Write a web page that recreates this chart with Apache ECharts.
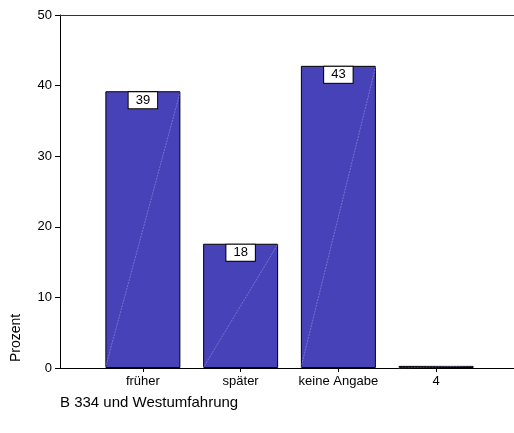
<!DOCTYPE html>
<html>
<head>
<meta charset="utf-8">
<script src="https://cdn.jsdelivr.net/npm/echarts@6/dist/echarts.min.js"></script>
<style>html,body{margin:0;padding:0;background:#fff}#c{width:514px;height:433px}</style>
</head>
<body>
<div id="c"></div>
<script>
var categories = ["früher", "später", "keine Angabe", "4"];
var values = [39.2, 17.6, 42.8, 0.3];
var labels = ["39", "18", "43", ""];
var yTicks = [0, 10, 20, 30, 40, 50];
var yName = "Prozent";
var footnote = "B 334 und Westumfahrung";

var font = "Liberation Sans, Arial, sans-serif";
var chart = echarts.init(document.getElementById('c'), null, {renderer: 'canvas'});
chart.setOption({
  animation: false,
  backgroundColor: '#fff',
  grid: [
    {left: 60, right: 0, top: 15, bottom: 65},
    {left: 94, right: 29, top: 15, bottom: 65}
  ],
  xAxis: [
    {type: 'value', gridIndex: 0, min: 0, max: 1, position: 'bottom',
     axisLine: {show: true, lineStyle: {color: '#000', width: 1}},
     axisTick: {show: false}, axisLabel: {show: false}, splitLine: {show: false}},
    {type: 'value', gridIndex: 0, min: 0, max: 1, position: 'top',
     axisLine: {show: true, lineStyle: {color: '#333', width: 1}},
     axisTick: {show: false}, axisLabel: {show: false}, splitLine: {show: false}},
    {type: 'category', gridIndex: 1, data: categories, position: 'bottom',
     axisLine: {show: false},
     axisTick: {show: true, alignWithLabel: true, interval: 0, length: 4, lineStyle: {color: '#000'}},
     axisLabel: {color: '#000', fontSize: 13, fontFamily: font, margin: 7, interval: 0, hideOverlap: false}}
  ],
  yAxis: [
    {type: 'value', gridIndex: 0, min: yTicks[0], max: yTicks[yTicks.length - 1], interval: 10,
     axisLine: {show: true, lineStyle: {color: '#000', width: 1}},
     axisTick: {show: true, length: 5, lineStyle: {color: '#000'}},
     axisLabel: {color: '#000', fontSize: 13, fontFamily: font, margin: 8},
     splitLine: {show: false}},
    {type: 'value', gridIndex: 1, min: yTicks[0], max: yTicks[yTicks.length - 1], show: false}
  ],
  graphic: [
    {type: 'text', x: 16, y: 338, rotation: Math.PI / 2,
     style: {text: yName, fill: '#000', font: '14px ' + font, align: 'center', verticalAlign: 'middle'}},
    {type: 'text', x: 60, y: 403,
     style: {text: footnote, fill: '#000', font: '15px ' + font, align: 'left', verticalAlign: 'middle'}}
  ],
  series: [
    {type: 'bar', xAxisIndex: 2, yAxisIndex: 1, data: values.map(function (v, i) {
        return {value: v, label: {show: labels[i] !== ''}};
      }), barWidth: 75,
     itemStyle: {color: '#4842b8', borderColor: '#000', borderWidth: 1},
     label: {show: true, position: 'insideTop', distance: 1,
       formatter: function (p) { return labels[p.dataIndex]; },
       color: '#000', fontSize: 13, fontFamily: font, lineHeight: 14,
       backgroundColor: '#fff', borderColor: '#000', borderWidth: 1,
       padding: [1, 7, 1, 7]}},
    {type: 'custom', xAxisIndex: 2, yAxisIndex: 1, data: values.map(function (v, i) { return [i, v]; }), z: 3,
     silent: true,
     renderItem: function (params, api) {
       var base = api.coord([api.value(0), 0]);
       var top = api.coord([api.value(0), api.value(1)]);
       var w = 75;
       return {type: 'line', shape: {x1: base[0] - w / 2, y1: base[1], x2: base[0] + w / 2, y2: top[1]},
         style: {stroke: 'rgba(200,200,255,0.6)', lineWidth: 0.6, lineDash: [2, 1]}};
     }}
  ]
});
</script>
</body>
</html>
